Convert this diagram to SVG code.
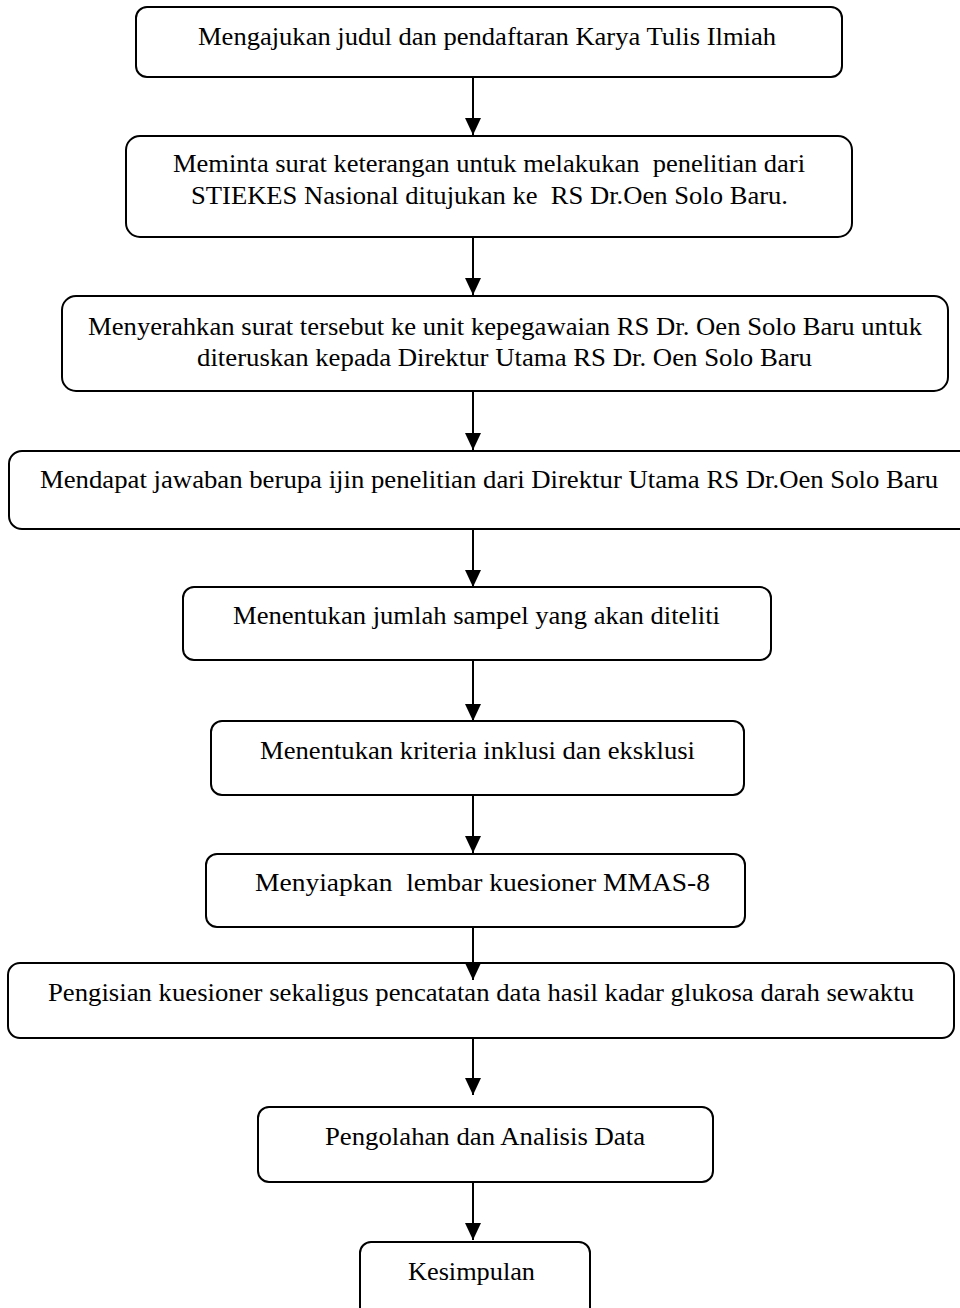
<svg xmlns="http://www.w3.org/2000/svg" width="960" height="1308" viewBox="0 0 960 1308">
<style>
.box{fill:#fff;stroke:#000;stroke-width:2}
.t{font-family:"Liberation Serif","Times New Roman",serif;font-size:26px;fill:#000}
.c{stroke:#000;stroke-width:2;fill:none;marker-end:url(#ah)}
</style>
<defs>
<marker id="ah" markerUnits="userSpaceOnUse" markerWidth="17" markerHeight="16" viewBox="0 0 17 16" refX="17" refY="8" orient="auto">
<path d="M0,0 L17,8 L0,16 Z" fill="#000"/>
</marker>
</defs>
<rect width="960" height="1308" fill="#fff"/>
<g id="connectors">
<line class="c" x1="473" y1="77" x2="473" y2="135"/>
<line class="c" x1="473" y1="237" x2="473" y2="295"/>
<line class="c" x1="473" y1="391" x2="473" y2="450"/>
<line class="c" x1="473" y1="529" x2="473" y2="587"/>
<line class="c" x1="473" y1="660" x2="473" y2="721"/>
<line class="c" x1="473" y1="795" x2="473" y2="853"/>
</g>
<g id="n1"><rect class="box" x="136" y="7" width="706" height="70" rx="11"/>
<text class="t" x="198" y="45" textLength="578" lengthAdjust="spacingAndGlyphs">Mengajukan judul dan pendaftaran Karya Tulis Ilmiah</text></g>
<g id="n2"><rect class="box" x="126" y="136" width="726" height="101" rx="14"/>
<text class="t" xml:space="preserve" x="173" y="172" textLength="632" lengthAdjust="spacingAndGlyphs">Meminta surat keterangan untuk melakukan  penelitian dari</text>
<text class="t" xml:space="preserve" x="191" y="204" textLength="597" lengthAdjust="spacingAndGlyphs">STIEKES Nasional ditujukan ke  RS Dr.Oen Solo Baru.</text></g>
<g id="n3"><rect class="box" x="62" y="296" width="886" height="95" rx="14"/>
<text class="t" x="88" y="335" textLength="834" lengthAdjust="spacingAndGlyphs">Menyerahkan surat tersebut ke unit kepegawaian RS Dr. Oen Solo Baru untuk</text>
<text class="t" x="197" y="366" textLength="615" lengthAdjust="spacingAndGlyphs">diteruskan kepada Direktur Utama RS Dr. Oen Solo Baru</text></g>
<g id="n4"><rect class="box" x="9" y="451" width="965" height="78" rx="13"/>
<text class="t" x="40" y="488" textLength="898" lengthAdjust="spacingAndGlyphs">Mendapat jawaban berupa ijin penelitian dari Direktur Utama RS Dr.Oen Solo Baru</text></g>
<g id="n5"><rect class="box" x="183" y="587" width="588" height="73" rx="11"/>
<text class="t" x="233" y="624" textLength="487" lengthAdjust="spacingAndGlyphs">Menentukan jumlah sampel yang akan diteliti</text></g>
<g id="n6"><rect class="box" x="211" y="721" width="533" height="74" rx="11"/>
<text class="t" x="260" y="759" textLength="435" lengthAdjust="spacingAndGlyphs">Menentukan kriteria inklusi dan eksklusi</text></g>
<g id="n7"><rect class="box" x="206" y="854" width="539" height="73" rx="11"/>
<text class="t" xml:space="preserve" x="255" y="891" textLength="455" lengthAdjust="spacingAndGlyphs">Menyiapkan  lembar kuesioner MMAS-8</text></g>
<g id="n8"><rect class="box" x="8" y="963" width="946" height="75" rx="12"/>
<text class="t" x="48" y="1001" textLength="866" lengthAdjust="spacingAndGlyphs">Pengisian kuesioner sekaligus pencatatan data hasil kadar glukosa darah sewaktu</text></g>
<g id="n9"><rect class="box" x="258" y="1107" width="455" height="75" rx="11"/>
<text class="t" x="325" y="1145" textLength="320" lengthAdjust="spacingAndGlyphs">Pengolahan dan Analisis Data</text></g>
<g id="n10"><rect class="box" x="360" y="1242" width="230" height="80" rx="11"/>
<text class="t" x="408" y="1280" textLength="127" lengthAdjust="spacingAndGlyphs">Kesimpulan</text></g>
<g id="connectors2">
<line class="c" x1="473" y1="927" x2="473" y2="980"/>
<line class="c" x1="473" y1="1038" x2="473" y2="1095"/>
<line class="c" x1="473" y1="1182" x2="473" y2="1240"/>
</g>
</svg>
